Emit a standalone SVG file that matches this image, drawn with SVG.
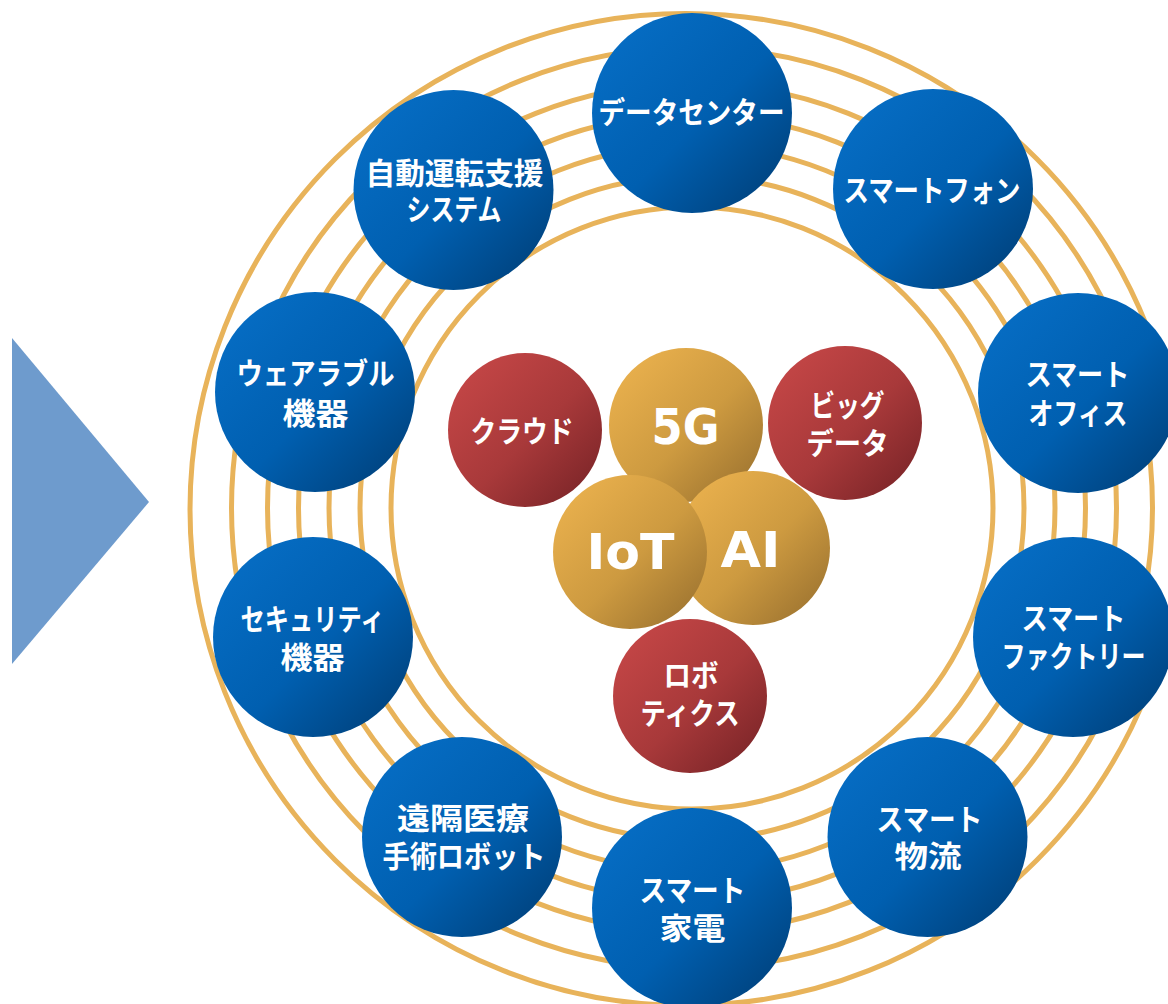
<svg xmlns="http://www.w3.org/2000/svg" width="1168" height="1004" viewBox="0 0 1168 1004">
<defs>
<linearGradient id="gBlue" x1="0.1" y1="0.1" x2="0.9" y2="0.9">
<stop offset="0" stop-color="#066DC4"/>
<stop offset="0.55" stop-color="#005FB0"/>
<stop offset="1" stop-color="#00437F"/>
</linearGradient>
<linearGradient id="gRed" x1="0.1" y1="0.1" x2="0.9" y2="0.9">
<stop offset="0" stop-color="#C44646"/>
<stop offset="0.55" stop-color="#A8393A"/>
<stop offset="1" stop-color="#7E2629"/>
</linearGradient>
<linearGradient id="gGold" x1="0.1" y1="0.1" x2="0.9" y2="0.9">
<stop offset="0" stop-color="#E9B04D"/>
<stop offset="0.55" stop-color="#CD9A40"/>
<stop offset="1" stop-color="#A07631"/>
</linearGradient>
<style>
.ring{fill:none;stroke:#E8B35A;stroke-width:5}
.blue{fill:url(#gBlue)}
.red{fill:url(#gRed)}
.gold{fill:url(#gGold)}
.jp{font-family:"Noto Sans CJK JP","Noto Sans",sans-serif;font-weight:bold;font-size:30px;fill:#FFFFFF;text-anchor:middle}
.en{font-family:"DejaVu Sans","Liberation Sans",sans-serif;font-weight:bold;font-size:50px;fill:#FFFFFF;text-anchor:middle}
</style>
</defs>
<rect width="1168" height="1004" fill="#FFFFFF"/>
<polygon id="arrow" points="12,338 149,502 12,664" fill="#6E9BCD"/>
<g id="rings">
<circle class="ring" cx="692" cy="508" r="301"/>
<circle class="ring" cx="692" cy="508" r="332"/>
<circle class="ring" cx="692" cy="508" r="363"/>
<circle class="ring" cx="692" cy="508" r="393.5"/>
<circle class="ring" cx="692" cy="508" r="424.5"/>
<circle class="ring" cx="692" cy="508" r="460.5"/>
<circle class="ring" cx="686" cy="509.5" r="496"/>
</g>
<g id="connectors"></g>
<g id="node-datacenter"><circle class="blue" cx="692" cy="113" r="100"/><text class="jp" x="691.5" y="123" textLength="186" lengthAdjust="spacingAndGlyphs">データセンター</text></g>
<g id="node-smartphone"><circle class="blue" cx="933" cy="189" r="100"/><text class="jp" x="932" y="201" textLength="177" lengthAdjust="spacingAndGlyphs">スマートフォン</text></g>
<g id="node-smartoffice"><circle class="blue" cx="1078" cy="393" r="100"/><text class="jp" x="1077.5" y="385" textLength="104" lengthAdjust="spacingAndGlyphs">スマート</text><text class="jp" x="1078" y="424" textLength="99" lengthAdjust="spacingAndGlyphs">オフィス</text></g>
<g id="node-smartfactory"><circle class="blue" cx="1073" cy="637" r="100"/><text class="jp" x="1073.5" y="629" textLength="104" lengthAdjust="spacingAndGlyphs">スマート</text><text class="jp" x="1073.5" y="667" textLength="144" lengthAdjust="spacingAndGlyphs">ファクトリー</text></g>
<g id="node-smartlogistics"><circle class="blue" cx="927.5" cy="837" r="100"/><text class="jp" x="929.5" y="830" textLength="106" lengthAdjust="spacingAndGlyphs">スマート</text><text class="jp" x="928" y="867" textLength="67" lengthAdjust="spacingAndGlyphs">物流</text></g>
<g id="node-smartappliance"><circle class="blue" cx="692" cy="908" r="100"/><text class="jp" x="692.5" y="901" textLength="106" lengthAdjust="spacingAndGlyphs">スマート</text><text class="jp" x="692.5" y="939" textLength="66" lengthAdjust="spacingAndGlyphs">家電</text></g>
<g id="node-telesurgery"><circle class="blue" cx="462" cy="837" r="100"/><text class="jp" x="463" y="829" textLength="132" lengthAdjust="spacingAndGlyphs">遠隔医療</text><text class="jp" x="464" y="867" textLength="163" lengthAdjust="spacingAndGlyphs">手術ロボット</text></g>
<g id="node-security"><circle class="blue" cx="313" cy="637" r="100"/><text class="jp" x="312.5" y="630" textLength="144" lengthAdjust="spacingAndGlyphs">セキュリティ</text><text class="jp" x="312.5" y="668" textLength="64" lengthAdjust="spacingAndGlyphs">機器</text></g>
<g id="node-wearable"><circle class="blue" cx="315" cy="392" r="100"/><text class="jp" x="315.5" y="384" textLength="158" lengthAdjust="spacingAndGlyphs">ウェアラブル</text><text class="jp" x="315.5" y="424" textLength="66" lengthAdjust="spacingAndGlyphs">機器</text></g>
<g id="node-autodrive"><circle class="blue" cx="453.5" cy="190" r="100"/><text class="jp" x="454.5" y="184" textLength="178" lengthAdjust="spacingAndGlyphs">自動運転支援</text><text class="jp" x="454" y="220" textLength="95" lengthAdjust="spacingAndGlyphs">システム</text></g>
<g id="node-cloud"><circle class="red" cx="525" cy="430" r="77"/><text class="jp" x="522" y="442" textLength="103" lengthAdjust="spacingAndGlyphs">クラウド</text></g>
<g id="node-bigdata"><circle class="red" cx="845" cy="423" r="77"/><text class="jp" x="847.5" y="416" textLength="74" lengthAdjust="spacingAndGlyphs">ビッグ</text><text class="jp" x="847.5" y="454" textLength="82" lengthAdjust="spacingAndGlyphs">データ</text></g>
<g id="node-5g"><circle class="gold" cx="686" cy="425" r="77"/><text class="en" x="685.5" y="444" textLength="68" lengthAdjust="spacingAndGlyphs">5G</text></g>
<g id="node-ai"><circle class="gold" cx="753" cy="548" r="77"/><text class="en" x="750.5" y="567" textLength="60" lengthAdjust="spacingAndGlyphs">AI</text></g>
<g id="node-iot"><circle class="gold" cx="630" cy="552" r="77"/><text class="en" x="630.5" y="569" textLength="88" lengthAdjust="spacingAndGlyphs">IoT</text></g>
<g id="node-robotics"><circle class="red" cx="690" cy="696" r="77"/><text class="jp" x="691" y="686" textLength="55" lengthAdjust="spacingAndGlyphs">ロボ</text><text class="jp" x="690" y="724" textLength="99" lengthAdjust="spacingAndGlyphs">ティクス</text></g>
</svg>
